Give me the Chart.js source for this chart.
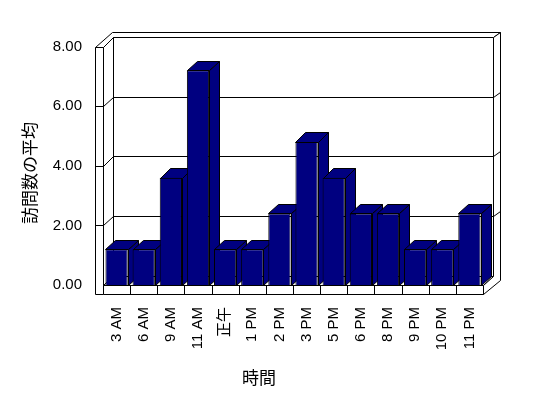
<!DOCTYPE html>
<html>
<head>
<meta charset="utf-8">
<script src="https://cdn.jsdelivr.net/npm/chart.js@4/dist/chart.umd.min.js"></script>
<style>
  html, body { margin: 0; padding: 0; background: #fff; }
  canvas { display: block; }
</style>
</head>
<body>
<canvas id="visitChart" width="548" height="398"></canvas>
<script>
// chart data
const hours = ['3 AM', '6 AM', '9 AM', '11 AM', '正午', '1 PM', '2 PM', '3 PM', '5 PM', '6 PM', '8 PM', '9 PM', '10 PM', '11 PM'];
const avgVisits = [1.2, 1.2, 3.6, 7.2, 1.2, 1.2, 2.4, 4.8, 3.6, 2.4, 2.4, 1.2, 1.2, 2.4];
const xTitle = '時間';
const yTitle = '訪問数の平均';

// 3D look
const depth = { dx: 10, dy: -9.5 };
const wall = { dx: 7, dy: -5 };
const wallThick = 8;
const floorThick = 9;
const barColor = '#000080';

const px = v => Math.round(v) + 0.5;

function poly(ctx, pts, fill) {
    ctx.beginPath();
    pts.forEach((p, i) => i ? ctx.lineTo(px(p[0]), px(p[1])) : ctx.moveTo(px(p[0]), px(p[1])));
    ctx.closePath();
    ctx.fillStyle = fill;
    ctx.fill();
    ctx.stroke();
}

const frame3d = {
    id: 'frame3d',
    beforeDatasetsDraw(chart) {
        const { ctx, chartArea: a, scales: { x, y } } = chart;
        const L = a.left, R = a.right, T = a.top, B = a.bottom;
        const dx = depth.dx, dy = depth.dy, wx = wall.dx, wy = wall.dy, t = wallThick;
        ctx.save();
        ctx.lineWidth = 1;
        ctx.strokeStyle = '#000';

        // back wall
        poly(ctx, [[L + dx, T + dy], [R + dx, T + dy], [R + dx, B + dy], [L + dx, B + dy]], '#fff');
        // top of the walls
        poly(ctx, [[L - t, T], [L, T], [L + dx, T + dy], [R + dx, T + dy],
                   [R + dx + wx, T + dy + wy], [L - t + dx + wx, T + dy + wy]], '#fff');
        // left wall inner side and front edge
        poly(ctx, [[L, T], [L + dx, T + dy], [L + dx, B + dy], [L, B]], '#fff');
        poly(ctx, [[L - t, T], [L, T], [L, B + floorThick], [L - t, B + floorThick]], '#fff');
        // floor
        poly(ctx, [[L, B], [R, B], [R + dx, B + dy], [L + dx, B + dy]], '#fff');
        poly(ctx, [[L, B], [R, B], [R, B + floorThick], [L, B + floorThick]], '#fff');
        // right side of floor + back wall
        poly(ctx, [[R, B], [R + dx, B + dy], [R + dx, T + dy], [R + dx + wx, T + dy + wy],
                   [R + dx + wx, B + floorThick + dy + wy], [R, B + floorThick]], '#fff');

        // category dividers on the floor edge
        ctx.beginPath();
        for (let i = 1; i < hours.length; i++) {
            const xx = px((x.getPixelForTick(i - 1) + x.getPixelForTick(i)) / 2);
            ctx.moveTo(xx, px(B));
            ctx.lineTo(xx, px(B + floorThick));
        }
        ctx.stroke();

        // gridlines
        y.ticks.forEach(tk => {
            if (tk.value <= y.min || tk.value >= y.max) return;
            const yy = y.getPixelForValue(tk.value);
            ctx.beginPath();
            ctx.moveTo(px(L - t), px(yy));
            ctx.lineTo(px(L), px(yy));
            ctx.lineTo(px(L + dx), px(yy + dy));
            ctx.lineTo(px(R + dx), px(yy + dy));
            ctx.lineTo(px(R + dx + wx), px(yy + dy + wy));
            ctx.stroke();
        });

        // bar sides, left to right
        chart.getDatasetMeta(0).data.forEach(bar => {
            const l = bar.x - bar.width / 2, r = bar.x + bar.width / 2;
            const top = bar.y, bot = bar.base;
            poly(ctx, [[r, top], [r + dx, top + dy], [r + dx, bot + dy], [r, bot]], barColor);
            poly(ctx, [[l, top], [r, top], [r + dx, top + dy], [l + dx, top + dy]], barColor);
        });
        ctx.restore();
    },
    afterDraw(chart) {
        const ctx = chart.ctx;
        ctx.save();
        ctx.fillStyle = '#000';
        ctx.font = '17px "Noto Sans CJK JP"';
        ctx.textAlign = 'center';
        ctx.textBaseline = 'middle';
        ctx.fillText(xTitle, 259, 378);
        ctx.translate(30, 173);
        ctx.rotate(-Math.PI / 2);
        ctx.fillText(yTitle, 0, 0);
        ctx.restore();
    }
};

const ctx = document.getElementById('visitChart').getContext('2d');
new Chart(ctx, {
    type: 'bar',
    data: {
        labels: hours,
        datasets: [{
            data: avgVisits,
            backgroundColor: barColor,
            borderColor: '#000',
            borderWidth: 1,
            barPercentage: 0.82,
            categoryPercentage: 1
        }]
    },
    options: {
        responsive: false,
        animation: false,
        layout: {
            padding: { top: 46.5, right: 65, bottom: 0, left: 0 }
        },
        plugins: {
            legend: { display: false },
            tooltip: { enabled: false }
        },
        scales: {
            x: {
                grid: { display: false, drawTicks: false },
                border: { display: false },
                ticks: {
                    minRotation: 90,
                    maxRotation: 90,
                    padding: 22,
                    color: '#000',
                    font: { family: '"Liberation Sans", "Noto Sans CJK JP", sans-serif', size: 15 }
                },
                afterFit: scale => { scale.height = 113; }
            },
            y: {
                min: 0,
                max: 8,
                grid: { display: false, drawTicks: false },
                border: { display: false },
                ticks: {
                    stepSize: 2,
                    padding: 21,
                    color: '#000',
                    font: { family: '"Liberation Sans", sans-serif', size: 15 },
                    callback: v => v.toFixed(2)
                },
                afterFit: scale => { scale.width = 103; }
            }
        }
    },
    plugins: [frame3d]
});
</script>
</body>
</html>
